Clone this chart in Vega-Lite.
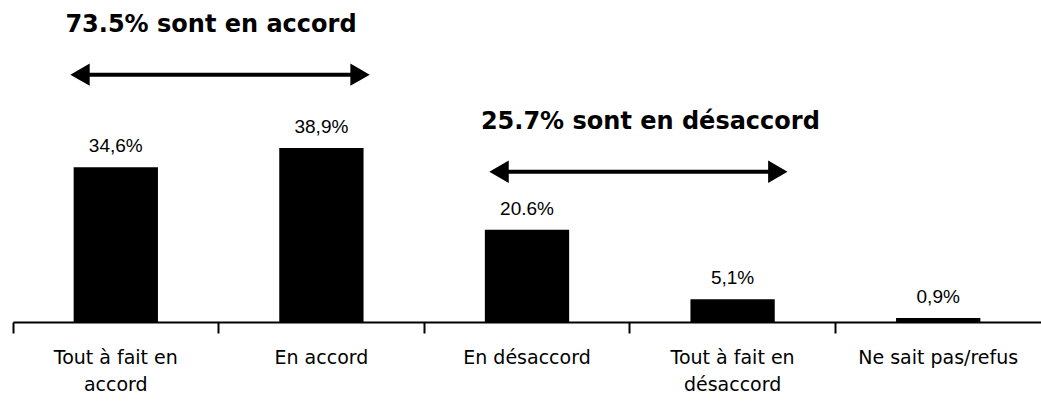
{
  "$schema": "https://vega.github.io/schema/vega-lite/v6.json",
  "autosize": "none",
  "width": 1028,
  "height": 322,
  "padding": {"left": 13, "top": 0, "right": 0, "bottom": 82},
  "background": "white",
  "config": {"view": {"stroke": null}},
  "datasets": {
    "bars": [
      {"cat": "Tout à fait en|accord", "value": 34.6, "label": "34,6%"},
      {"cat": "En accord", "value": 38.9, "label": "38,9%"},
      {"cat": "En désaccord", "value": 20.6, "label": "20.6%"},
      {"cat": "Tout à fait en|désaccord", "value": 5.1, "label": "5,1%"},
      {"cat": "Ne sait pas/refus", "value": 0.9, "label": "0,9%"}
    ],
    "annot": [
      {"kind": "arrow", "x1": 0.326, "x2": 1.688, "y": 55.3},
      {"kind": "arrow", "x1": 2.364, "x2": 3.72, "y": 33.6},
      {"kind": "title", "x1": 0.963, "y": 66.4, "text": "73.5% sont en accord"},
      {"kind": "title", "x1": 3.1, "y": 44.7, "text": "25.7% sont en désaccord"}
    ]
  },
  "layer": [
    {
      "data": {"name": "bars"},
      "layer": [
        {
          "mark": {"type": "bar", "color": "black", "width": {"band": 0.41}},
          "encoding": {
            "x": {
              "field": "cat", "type": "nominal", "sort": null,
              "scale": {"paddingInner": 0, "paddingOuter": 0},
              "axis": {
                "title": null, "labelAngle": 0, "bandPosition": 0,
                "domainColor": "black", "domainWidth": 2,
                "tickColor": "black", "tickWidth": 2, "tickSize": 11,
                "labelFont": "DejaVu Sans", "labelFontSize": 19, "labelColor": "black",
                "labelLineHeight": 27, "labelPadding": 15,
                "labelExpr": "split(datum.label, '|')",
                "labelBound": false, "labelOverlap": false, "labelFlush": false
              }
            },
            "y": {"field": "value", "type": "quantitative", "scale": {"domain": [0, 72], "nice": false}, "axis": null}
          }
        },
        {
          "mark": {"type": "text", "font": "Liberation Sans", "fontSize": 19, "color": "black", "baseline": "alphabetic", "dy": -15},
          "encoding": {
            "x": {"field": "cat", "type": "nominal", "sort": null, "bandPosition": 0.5},
            "y": {"field": "value", "type": "quantitative"},
            "text": {"field": "label"}
          }
        }
      ]
    },
    {
      "data": {"name": "annot"},
      "encoding": {
        "x": {"field": "x1", "type": "quantitative", "scale": {"domain": [0, 5], "nice": false, "zero": false}, "axis": null},
        "y": {"field": "y", "type": "quantitative"}
      },
      "layer": [
        {
          "transform": [{"filter": "datum.kind == 'arrow'"}],
          "mark": {"type": "rule", "color": "black", "strokeWidth": 4},
          "encoding": {"x2": {"field": "x2"}}
        },
        {
          "transform": [{"filter": "datum.kind == 'arrow'"}],
          "mark": {"type": "point", "shape": "triangle-left", "filled": true, "color": "black", "size": 500, "opacity": 1}
        },
        {
          "transform": [{"filter": "datum.kind == 'arrow'"}],
          "mark": {"type": "point", "shape": "triangle-right", "filled": true, "color": "black", "size": 500, "opacity": 1},
          "encoding": {"x": {"field": "x2", "type": "quantitative"}}
        },
        {
          "transform": [{"filter": "datum.kind == 'title'"}],
          "mark": {"type": "text", "font": "DejaVu Sans", "fontWeight": "bold", "fontSize": 24, "color": "black", "align": "center", "baseline": "middle"},
          "encoding": {"text": {"field": "text"}}
        }
      ]
    }
  ],
  "resolve": {"scale": {"x": "independent"}}
}
